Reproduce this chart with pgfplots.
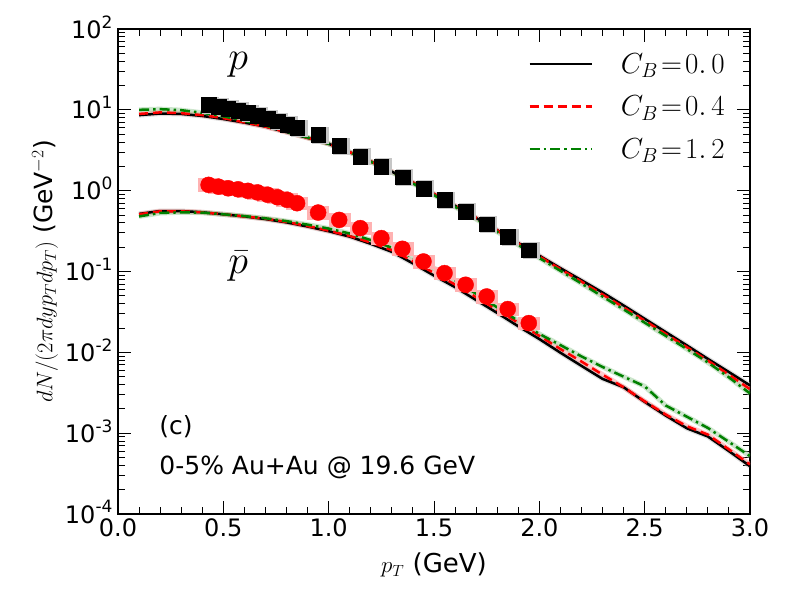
\RequirePackage{fix-cm}
\documentclass[border=0pt]{standalone}
\usepackage{fontspec}
\setmainfont{DejaVu Sans}
\usepackage{pgfplots}
\pgfplotsset{compat=1.18}
\usepackage{pgfplotstable}

\definecolor{mgreen}{RGB}{0,128,0}
\newcommand{\sct}[1]{10\raisebox{0.42em}{\fontsize{17}{19}\selectfont #1}}

\pgfplotstableread{
pt val
0.43 11.5
0.477 11.0
0.523 10.4
0.57 9.8
0.617 9.2
0.663 8.5
0.71 7.8
0.757 7.2
0.803 6.6
0.85 6.0
0.95 4.9
1.05 3.58
1.15 2.64
1.25 1.99
1.35 1.47
1.45 1.06
1.55 0.77
1.65 0.552
1.75 0.387
1.85 0.269
1.95 0.183
}\protdata

\pgfplotstableread{
pt val
0.43 1.18
0.477 1.12
0.523 1.07
0.57 1.04
0.617 0.995
0.663 0.95
0.71 0.89
0.757 0.83
0.803 0.77
0.85 0.70
0.95 0.536
1.05 0.435
1.15 0.344
1.25 0.259
1.35 0.191
1.45 0.133
1.55 0.0955
1.65 0.0686
1.75 0.0491
1.85 0.0343
1.95 0.0230
}\pbardata

\pgfplotstableread{
pt b r g
0.1 8.6 8.9 10.0
0.2 9.0 9.3 10.2
0.3 8.9 9.1 9.9
0.4 8.4 8.6 9.2
0.5 7.7 7.9 8.3
0.6 6.95 7.0 7.3
0.7 6.2 6.2 6.4
0.8 5.3 5.3 5.4
0.9 4.5 4.5 4.55
1.0 3.8 3.8 3.8
1.1 3.0 3.0 3.0
1.2 2.3 2.3 2.28
1.3 1.72 1.72 1.69
1.4 1.26 1.26 1.23
1.5 0.91 0.91 0.88
1.6 0.65 0.65 0.63
1.7 0.46 0.46 0.445
1.8 0.325 0.322 0.31
1.9 0.225 0.222 0.213
2.0 0.157 0.154 0.147
2.1 0.110 0.107 0.102
2.2 0.078 0.075 0.071
2.3 0.055 0.052 0.049
2.4 0.038 0.036 0.034
2.5 0.026 0.0247 0.0233
2.6 0.0178 0.0169 0.016
2.7 0.0122 0.0116 0.011
2.8 0.0083 0.0079 0.0075
2.9 0.0057 0.0053 0.0049
3.0 0.0039 0.0035 0.0031
}\protcurve

\pgfplotstableread{
pt b r g
0.1 0.516 0.51 0.48
0.2 0.56 0.555 0.53
0.3 0.56 0.555 0.54
0.4 0.54 0.54 0.535
0.5 0.51 0.51 0.51
0.6 0.48 0.48 0.485
0.7 0.445 0.45 0.455
0.8 0.405 0.41 0.42
0.9 0.36 0.365 0.38
1.0 0.315 0.32 0.34
1.1 0.27 0.275 0.295
1.2 0.22 0.228 0.245
1.3 0.175 0.184 0.197
1.4 0.126 0.134 0.150
1.5 0.089 0.096 0.110
1.6 0.064 0.069 0.078
1.7 0.0443 0.048 0.053
1.8 0.0307 0.0335 0.036
1.9 0.021 0.0232 0.0245
2.0 0.0146 0.016 0.0169
2.1 0.0099 0.011 0.0123
2.2 0.0068 0.0077 0.0089
2.3 0.0047 0.0053 0.0066
2.4 0.0037 0.0037 0.0050
2.5 0.00244 0.00248 0.0038
2.6 0.00165 0.0017 0.0022
2.7 0.00115 0.00122 0.0016
2.8 0.00091 0.00096 0.00116
2.9 0.0006 0.00063 0.00078
3.0 0.00039 0.00041 0.00052
}\pbarcurve

\begin{document}
\begin{tikzpicture}
\begin{axis}[
  scale only axis, width=632pt, height=485pt,
  ymode=log, ymin=1e-4, ymax=1e2,
  xmin=0, xmax=3,
  xtick={0,0.5,1,1.5,2,2.5,3},
  xticklabels={0.0,0.5,1.0,1.5,2.0,2.5,3.0},
  minor x tick num=4,
  ytick={1e-4,1e-3,1e-2,1e-1,1,10,100},
  yticklabels={\sct{-4},\sct{-3},\sct{-2},\sct{-1},\sct{0},\sct{1},\sct{2}},
  minor ytick={2e-4,3e-4,4e-4,5e-4,6e-4,7e-4,8e-4,9e-4,
               2e-3,3e-3,4e-3,5e-3,6e-3,7e-3,8e-3,9e-3,
               2e-2,3e-2,4e-2,5e-2,6e-2,7e-2,8e-2,9e-2,
               0.2,0.3,0.4,0.5,0.6,0.7,0.8,0.9,
               2,3,4,5,6,7,8,9,20,30,40,50,60,70,80,90},
  major tick length=13pt, minor tick length=7pt,
  every tick/.style={black, line width=0.9pt},
  axis line style={line width=1.1pt},
  tick label style={font=\fontsize{24}{28}\selectfont},
  xticklabel style={yshift=-1pt},
  yticklabel style={xshift=-2pt, yshift=2pt},
  xlabel={{\fontsize{23}{27}\selectfont$p_T$} (GeV)},
  ylabel={{\fontsize{22.5}{26}\selectfont$dN/(2\pi dyp_Tdp_T)$} (GeV$^{-2}$)},
  every axis x label/.style={at={(axis description cs:0.5,-0.105)}, anchor=center, font=\fontsize{26}{30}\selectfont},
  every axis y label/.style={at={(axis description cs:-0.1155,0.5)}, anchor=center, rotate=90, font=\fontsize{25}{29}\selectfont},
  legend image code/.code={\draw[#1] (0pt,0pt) -- (62pt,0pt);},
  legend style={draw=none, fill=none, at={(axis description cs:0.968,0.958)}, anchor=north east,
    font=\fontsize{29}{33}\selectfont, row sep=17pt, cells={anchor=west}},
  clip=true,
]
% systematic boxes
\addplot[only marks, color=gray!45, mark=square*, mark size=8pt, mark options={xshift=2pt}, forget plot] table[x=pt,y=val]{\protdata};
\addplot[only marks, color=red!30, mark=square*, mark size=7pt, mark options={xscale=1.5, yscale=0.9}, forget plot] table[x=pt,y=val]{\pbardata};
% data points
\addplot[only marks, color=black, mark=square*, mark size=7.3pt, forget plot] table[x=pt,y=val]{\protdata};
\addplot[only marks, color=red, mark=*, mark size=8pt, forget plot] table[x=pt,y=val]{\pbardata};
% bands
\addplot[gray!50, line width=5pt, opacity=0.5, forget plot] table[x=pt,y=b]{\protcurve};
\addplot[red!40, line width=5pt, opacity=0.5, forget plot] table[x=pt,y=r]{\protcurve};
\addplot[mgreen!40, line width=5pt, opacity=0.5, forget plot] table[x=pt,y=g]{\protcurve};
\addplot[gray!50, line width=5pt, opacity=0.5, forget plot] table[x=pt,y=b]{\pbarcurve};
\addplot[red!40, line width=5pt, opacity=0.5, forget plot] table[x=pt,y=r]{\pbarcurve};
\addplot[mgreen!40, line width=5pt, opacity=0.5, forget plot] table[x=pt,y=g]{\pbarcurve};
% curves
\addplot[black, line width=2.5pt] table[x=pt,y=b]{\protcurve};
\addlegendentry{\hspace{26pt}$C_B\mkern2mu{=}\mkern2mu0.\mkern3mu0$}
\addplot[red, line width=2.5pt, dash pattern=on 9pt off 5pt] table[x=pt,y=r]{\protcurve};
\addlegendentry{\hspace{26pt}$C_B\mkern2mu{=}\mkern2mu0.\mkern3mu4$}
\addplot[mgreen, line width=2.5pt, dash pattern=on 10pt off 4pt on 2.5pt off 4pt] table[x=pt,y=g]{\protcurve};
\addlegendentry{\hspace{26pt}$C_B\mkern2mu{=}\mkern2mu1.\mkern3mu2$}
\addplot[black, line width=2.5pt, forget plot] table[x=pt,y=b]{\pbarcurve};
\addplot[red, line width=2.5pt, dash pattern=on 9pt off 5pt, forget plot] table[x=pt,y=r]{\pbarcurve};
\addplot[mgreen, line width=2.5pt, dash pattern=on 10pt off 4pt on 2.5pt off 4pt, forget plot] table[x=pt,y=g]{\pbarcurve};
% annotations
\node[font=\fontsize{40}{44}\selectfont] at (axis cs:0.57,36) {$p$};
\node[font=\fontsize{40}{44}\selectfont] at (axis cs:0.57,0.115) {$\bar{p}$};
\node[anchor=west, font=\fontsize{25}{29}\selectfont] at (axis cs:0.18,0.0012) {(c)};
\node[anchor=west, font=\fontsize{25}{29}\selectfont] at (axis cs:0.18,0.000375) {0-5\% Au+Au @ 19.6 GeV};
\end{axis}
\pgfresetboundingbox
\path (-118pt,-78pt) rectangle (671pt,514pt);
\end{tikzpicture}
\end{document}
